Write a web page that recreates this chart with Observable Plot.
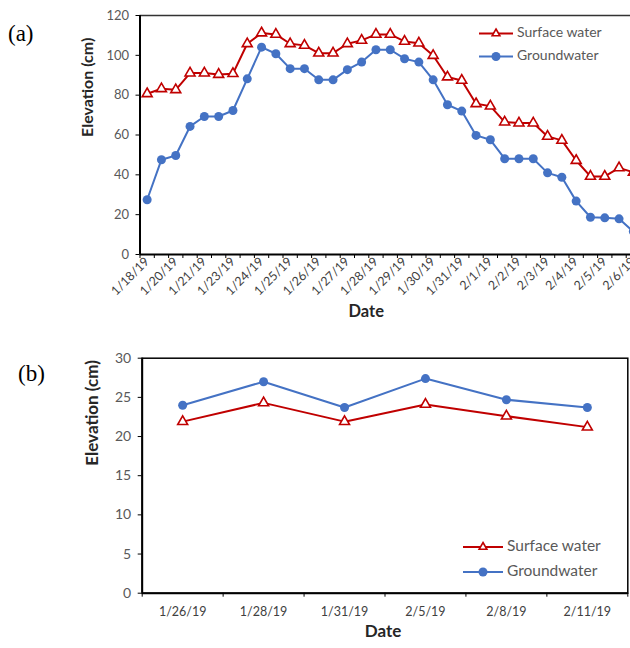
<!DOCTYPE html>
<html>
<head>
<meta charset="utf-8">
<script src="https://cdn.jsdelivr.net/npm/d3@7"></script>
<script src="https://cdn.jsdelivr.net/npm/@observablehq/plot@0.6"></script>
<style>
  html, body { margin: 0; padding: 0; background: white; overflow: hidden; }
  #wrap { position: relative; width: 630px; height: 648px; overflow: hidden; background: white; }
  #wrap > svg, #wrap > figure { position: absolute; left: 0; margin: 0; }
</style>
</head>
<body>
<div id="wrap"></div>
<script>
// ---------- Data: panel (a) ----------
const seriesNames = ["Surface water", "Groundwater"];
const labelsA = ["1/18/19","1/20/19","1/21/19","1/23/19","1/24/19","1/25/19","1/26/19","1/27/19","1/28/19",
                 "1/29/19","1/30/19","1/31/19","2/1/19","2/2/19","2/3/19","2/4/19","2/5/19","2/6/19"];
const surfaceA = [80.7, 83.2, 82.7, 91.1, 91.1, 90.4, 90.8, 105.8, 111.2, 110.5, 105.8, 105.0, 101.1, 101.1,
                  105.8, 107.5, 110.5, 110.5, 107.0, 106.1, 99.9, 89.1, 87.4, 75.7, 74.5, 66.5, 66.0, 66.0,
                  59.3, 57.3, 47.2, 39.2, 39.2, 43.5, 41.3];
const groundA  = [27.5, 47.6, 49.7, 64.3, 69.3, 69.3, 72.3, 88.2, 104.1, 100.8, 93.3, 93.3, 87.7, 87.7,
                  92.8, 96.6, 102.8, 102.8, 98.3, 96.6, 87.7, 75.2, 72.0, 59.8, 57.6, 48.1, 48.1, 48.1,
                  41.0, 38.8, 26.8, 18.7, 18.4, 17.9, 11.5];
const yTicksA = [0, 20, 40, 60, 80, 100, 120];

// ---------- Data: panel (b) ----------
const labelsB  = ["1/26/19","1/28/19","1/31/19","2/5/19","2/8/19","2/11/19"];
const surfaceB = [21.9, 24.3, 21.9, 24.1, 22.6, 21.2];
const groundB  = [24.0, 27.0, 23.7, 27.4, 24.7, 23.7];
const yTicksB  = [0, 5, 10, 15, 20, 25, 30];

const RED = "#C00000";
const BLUE = "#4472C4";
const GREY = "#595959";
const FONT = "Lato, 'Open Sans', sans-serif";
const TRI_R = 3.7;

const wrap = document.getElementById("wrap");

// ---------- Panel (a) ----------
const boundsA = d3.range(surfaceA.length).map(i => i - 0.5);
const labIdxA = labelsA.map((_, k) => k * 2);

const plotA = Plot.plot({
  width: 630, height: 335,
  marginTop: 15, marginBottom: 81, marginLeft: 139.5, marginRight: 0,
  x: {type: "linear", domain: [-0.5, 33.8], axis: null},
  y: {domain: [0, 120], axis: null},
  style: {fontFamily: FONT, background: "white", overflow: "hidden"},
  marks: [
    Plot.ruleY([120], {stroke: "#333", strokeWidth: 1.5}),
    Plot.axisY({ticks: yTicksA, tickSize: 4, tickPadding: 7, fontSize: 13, fill: GREY, stroke: "black", label: null}),
    Plot.axisX({ticks: boundsA, tickSize: 4, tickFormat: () => "", stroke: "black", label: null}),
    Plot.axisX({ticks: labIdxA, tickSize: 0, tickPadding: 5, tickRotate: -45, fontSize: 12.5, fill: "#404040",
                tickFormat: i => labelsA[Math.round(i / 2)], label: null}),
    Plot.line(surfaceA, {x: (d, i) => i, y: d => d, stroke: RED, strokeWidth: 2}),
    Plot.line(groundA, {x: (d, i) => i, y: d => d, stroke: BLUE, strokeWidth: 2}),
    Plot.dot(groundA, {x: (d, i) => i, y: d => d, r: 4.5, fill: BLUE}),
    Plot.dot(surfaceA, {x: (d, i) => i, y: d => d, r: TRI_R, symbol: "triangle", fill: "white", stroke: RED, strokeWidth: 1.6}),
    Plot.ruleX([-0.5], {stroke: "black", strokeWidth: 2}),
    Plot.ruleY([0], {stroke: "black", strokeWidth: 2}),
    Plot.text(["Elevation (cm)"], {frameAnchor: "left", dx: -52, dy: 2, rotate: -90, fontWeight: "bold", fontSize: 16, fill: "#262626"}),
    Plot.text(["Date"], {frameAnchor: "bottom", dx: -19, dy: 62, fontWeight: "bold", fontSize: 16.5, fill: "#262626"})
  ]
});
plotA.style.top = "0px";
wrap.appendChild(plotA);

// ---------- Panel (b) ----------
const boundsB = d3.range(labelsB.length + 1).map(i => i - 0.5);
const idxB = d3.range(labelsB.length);

const plotB = Plot.plot({
  width: 630, height: 313,
  marginTop: 22.7, marginBottom: 55.3, marginLeft: 141.7, marginRight: 2.7,
  x: {type: "linear", domain: [-0.5, 5.5], axis: null},
  y: {domain: [0, 30], axis: null},
  style: {fontFamily: FONT, background: "white", overflow: "hidden"},
  marks: [
    Plot.frame({stroke: "black", strokeWidth: 1.5}),
    Plot.axisY({ticks: yTicksB, tickSize: 4, tickPadding: 7, fontSize: 14, fill: GREY, stroke: "black", label: null}),
    Plot.axisX({ticks: boundsB, tickSize: 4, tickFormat: () => "", stroke: "black", label: null}),
    Plot.axisX({ticks: idxB, tickSize: 0, tickPadding: 14, fontSize: 12.5, fill: "#404040",
                tickFormat: i => labelsB[Math.round(i)], label: null}),
    Plot.line(surfaceB, {x: (d, i) => i, y: d => d, stroke: RED, strokeWidth: 2}),
    Plot.line(groundB, {x: (d, i) => i, y: d => d, stroke: BLUE, strokeWidth: 2}),
    Plot.dot(groundB, {x: (d, i) => i, y: d => d, r: 4.5, fill: BLUE}),
    Plot.dot(surfaceB, {x: (d, i) => i, y: d => d, r: TRI_R, symbol: "triangle", fill: "white", stroke: RED, strokeWidth: 1.6}),
    Plot.ruleX([-0.5], {stroke: "black", strokeWidth: 2}),
    Plot.ruleY([0], {stroke: "black", strokeWidth: 2}),
    Plot.text(["Elevation (cm)"], {frameAnchor: "left", dx: -50, dy: -10, rotate: -90, fontWeight: "bold", fontSize: 17, fill: "#262626"}),
    Plot.text(["Date"], {frameAnchor: "bottom", dx: -2, dy: 44, fontWeight: "bold", fontSize: 17, fill: "#262626"})
  ]
});
plotB.style.top = "335px";
wrap.appendChild(plotB);

// ---------- Overlay: panel letters and legends ----------
const ov = d3.create("svg").attr("width", 630).attr("height", 648)
  .style("position", "absolute").style("left", "0px").style("top", "0px").style("pointer-events", "none");

ov.append("text").attr("x", 8).attr("y", 36).attr("dominant-baseline", "middle")
  .attr("font-family", "'Liberation Serif', 'Times New Roman', serif").attr("font-size", 23).text("(a)");
ov.append("text").attr("x", 18).attr("y", 376).attr("dominant-baseline", "middle")
  .attr("font-family", "'Liberation Serif', 'Times New Roman', serif").attr("font-size", 23).text("(b)");

function legend(x0, x1, y0, gap, fs) {
  const colors = [RED, BLUE];
  seriesNames.forEach((name, k) => {
    const y = y0 + k * gap;
    const g = ov.append("g");
    g.append("line").attr("x1", x0).attr("x2", x1).attr("y1", y).attr("y2", y)
      .attr("stroke", colors[k]).attr("stroke-width", 2);
    const cx = (x0 + x1) / 2;
    if (k === 0) {
      g.append("path").attr("transform", `translate(${cx},${y})`)
        .attr("d", d3.symbol(d3.symbolTriangle2, Math.PI * TRI_R * TRI_R)())
        .attr("fill", "white").attr("stroke", RED).attr("stroke-width", 1.6);
    } else {
      g.append("circle").attr("cx", cx).attr("cy", y).attr("r", 4.5).attr("fill", BLUE);
    }
    g.append("text").attr("x", x1 + 4).attr("y", y).attr("dominant-baseline", "middle")
      .attr("font-family", FONT).attr("font-size", fs).attr("fill", GREY).text(name);
  });
}
legend(479, 513, 33.5, 23, 14);
legend(463, 503, 547, 25, 15.5);

wrap.appendChild(ov.node());
</script>
</body>
</html>
